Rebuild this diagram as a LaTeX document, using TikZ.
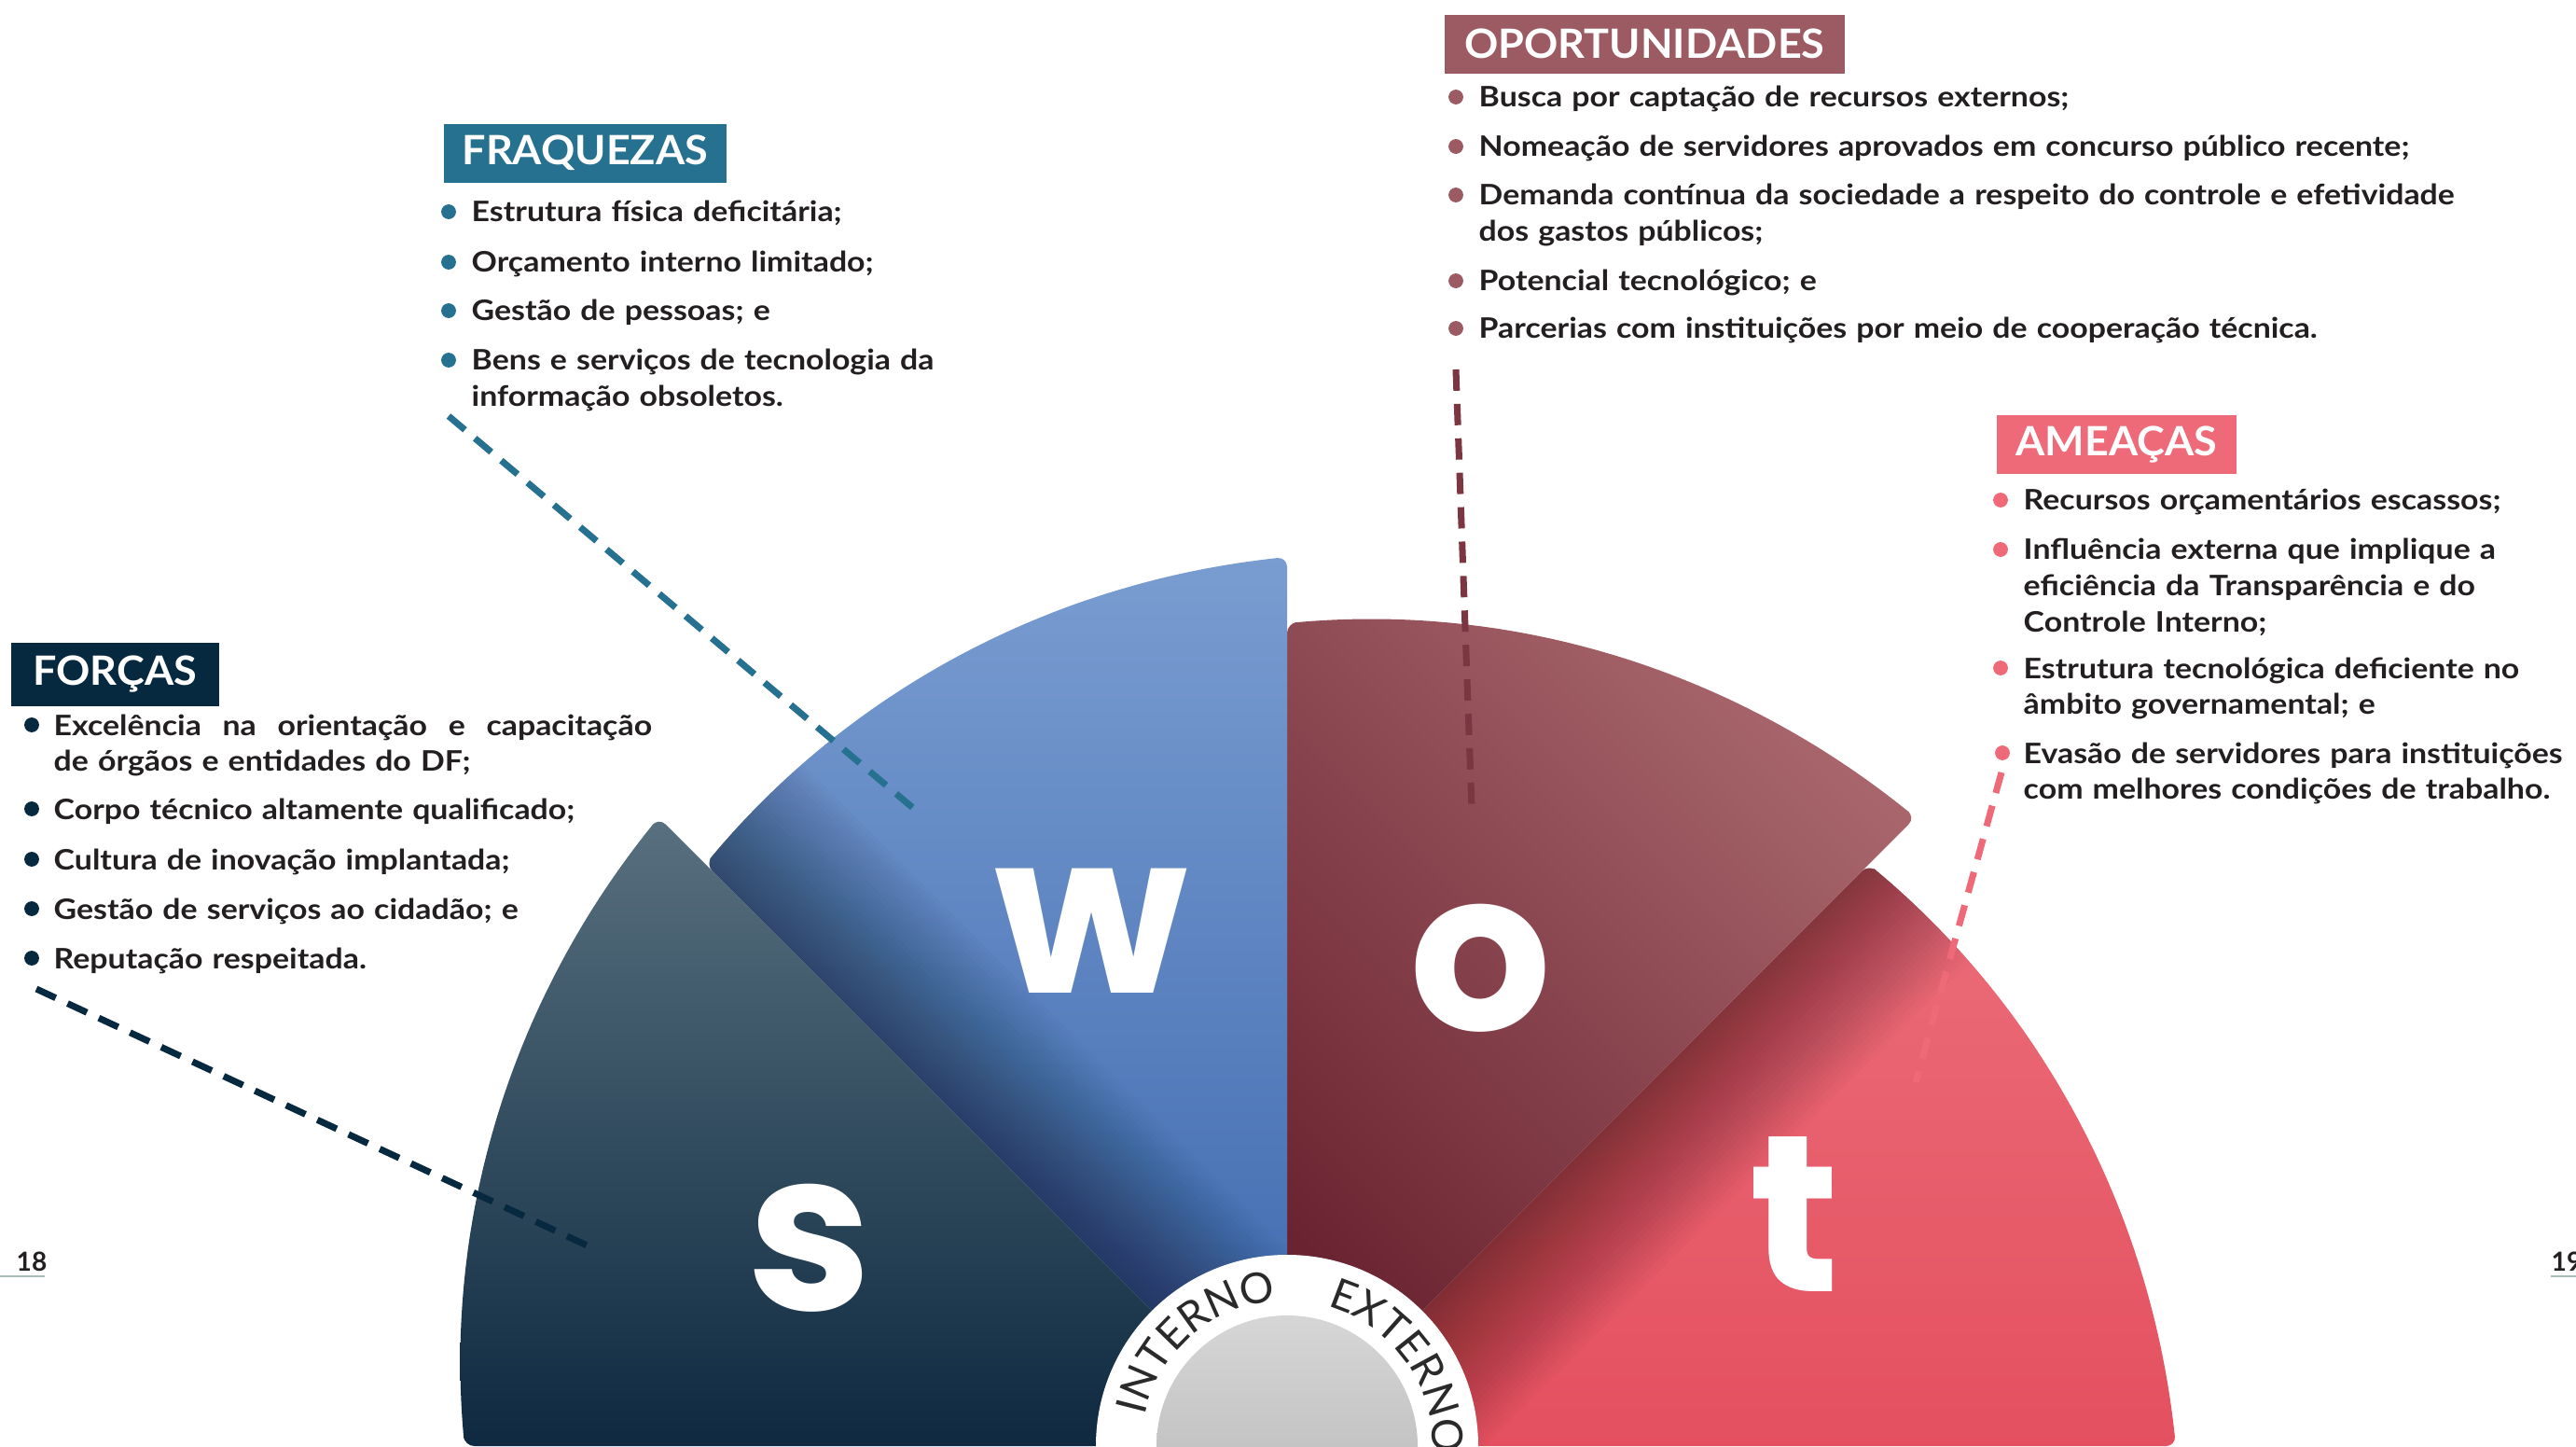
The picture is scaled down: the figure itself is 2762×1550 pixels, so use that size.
\documentclass[tikz,border=0pt]{standalone}
\usepackage{fontspec}
\setmainfont{Lato}
\newfontfamily\bodyfont{Lato}[FakeStretch=1.12]
\newfontfamily\headfont{Lato}[FakeStretch=1.04]
\newfontfamily\letterfont{Poppins}
\usetikzlibrary{decorations.text}

\definecolor{forcol}{HTML}{07293F}
\definecolor{fracol}{HTML}{26718F}
\definecolor{opocol}{HTML}{9C5A62}
\definecolor{opoline}{HTML}{7C3641}
\definecolor{amecol}{HTML}{EE6A78}
\definecolor{txtcol}{HTML}{231F20}
\definecolor{pgline}{HTML}{A9BDB4}
\definecolor{ringcol}{HTML}{2A2A2A}
\definecolor{stop}{HTML}{58707F}
\definecolor{sbot}{HTML}{0E2940}
\definecolor{wtop}{HTML}{7A9DD1}
\definecolor{wbot}{HTML}{3A66AD}
\definecolor{otop}{HTML}{A8666C}
\definecolor{obot}{HTML}{6A2431}
\definecolor{ttop}{HTML}{F07D88}
\definecolor{tbot}{HTML}{E4505F}
\definecolor{cirtop}{HTML}{D6D6D6}
\definecolor{cirbot}{HTML}{B2B2B2}
\newcommand*\ringfont{\fontsize{13}{15}\selectfont}

\begin{document}
\begin{tikzpicture}[x=0.01cm, y=0.01cm,
  hdr/.style={fill=#1, text=white, inner sep=0pt, anchor=north west, font=\headfont\fontsize{12.3}{14}\selectfont\bfseries},
  item/.style={anchor=base west, inner sep=0pt, text width=14cm, align=left, text=txtcol, font=\bodyfont\fontsize{8.6}{11}\selectfont\bfseries},
  dot/.style={circle, fill=#1, inner sep=0pt, minimum size=4.5pt},
  conn/.style={draw=#1, line width=2pt, dash pattern=on 6.5pt off 4pt},
  bigletter/.style={text=white, font=\letterfont\fontsize{68}{68}\selectfont\bfseries}]
\useasboundingbox (0,0) rectangle (2762,1550);
\coordinate (C) at (1380,0);

% t wedge, under o
\begin{scope}
\clip[rounded corners=3pt] (C) -- plot[domain=0:45, samples=40] ({1380+(953-71*\x/45)*cos(\x)}, {(953-71*\x/45)*sin(\x)}) -- cycle;
\shade[top color=ttop, bottom color=tbot] (1380,0) rectangle (2340,960);
\foreach \sh in {5,10,...,150}
  \fill[black, opacity=.016, shift={(C)}, rotate=45] (0,0) rectangle (1000,-\sh);
\end{scope}
% o wedge
\shade[rounded corners=3pt, top color=otop, bottom color=obot, shading angle=-45] (C) -- plot[domain=45:90, samples=40] ({1380+(953-71*(\x-45)/45)*cos(\x)}, {(953-71*(\x-45)/45)*sin(\x)}) -- cycle;
% w wedge, under s
\begin{scope}
\clip[rounded corners=3pt] (C) -- plot[domain=90:135, samples=40] ({1380+(953-71*(\x-90)/45)*cos(\x)}, {(953-71*(\x-90)/45)*sin(\x)}) -- cycle;
\shade[top color=wtop, bottom color=wbot] (400,0) rectangle (1400,960);
\foreach \sh in {5,10,...,150}
  \fill[black, opacity=.016, shift={(C)}, rotate=135] (0,0) rectangle (1000,-\sh);
\end{scope}
% s wedge
\shade[rounded corners=3pt, top color=stop, bottom color=sbot] (C) -- plot[domain=135:180, samples=40] ({1380+(953-71*(\x-135)/45)*cos(\x)}, {(953-71*(\x-135)/45)*sin(\x)}) -- cycle;

\node[bigletter] (ls) at (868,212) {s};
\node[bigletter] (lw) at (1170,552) {w};
\node[bigletter] (lo) at (1588,512) {o};
\node[bigletter] (lt) at (1924,248) {t};

% centre
\fill[white] (C) circle[radius=205];
\shade[top color=cirtop, bottom color=cirbot] (C) circle[radius=140];
\path[shift={(C)}, decorate, decoration={text along path, text={|\ringfont|INTERNO}, text align={fit to path}, text color=ringcol}] (168:156) arc[start angle=168, end angle=100, radius=156];
\path[shift={(C)}, decorate, decoration={text along path, text={|\ringfont|EXTERNO}, text align={fit to path}, text color=ringcol}] (74:156) arc[start angle=74, end angle=1, radius=156];

% dashed lines
\coordinate (fs1) at (39,490);
\coordinate (fs2) at (638,211);
\coordinate (fq1) at (481,1104);
\coordinate (fq2) at (986,678);
\coordinate (op1) at (1561,1154);
\coordinate (op2) at (1578,683);
\coordinate (am1) at (2146,722);
\coordinate (am2) at (2054,390);
\draw[conn=forcol] (fs1) -- (fs2);
\draw[conn=fracol] (fq1) -- (fq2);
\draw[conn=opoline] (op1) -- (op2);
\draw[conn=amecol] (am1) -- (am2);

% forcas
\node[hdr=forcol, minimum width=2.23cm, minimum height=0.68cm] (hfor) at (11,862) {FORÇAS};
\node[dot=forcol] (fb1) at (34,773) {};
\node[item] (fi1) at (57,762) {\hbox to 6.41cm{Excelência\hfill na\hfill orientação\hfill e\hfill capacitação}\\de órgãos e entidades do DF;};
\node[dot=forcol] (fb2) at (34,683) {};
\node[item] (fi2) at (57,672) {Corpo técnico altamente qualificado;};
\node[dot=forcol] (fb3) at (34,629) {};
\node[item] (fi3) at (57,618) {Cultura de inovação implantada;};
\node[dot=forcol] (fb4) at (34,576) {};
\node[item] (fi4) at (57,565) {Gestão de serviços ao cidadão; e};
\node[dot=forcol] (fb5) at (34,523) {};
\node[item] (fi5) at (57,512) {Reputação respeitada.};

% fraquezas
\node[hdr=fracol, minimum width=3.03cm, minimum height=0.63cm] (hfra) at (475,1418) {FRAQUEZAS};
\node[dot=fracol] (qb1) at (481,1323) {};
\node[item] (qi1) at (505,1312) {Estrutura física deficitária;};
\node[dot=fracol] (qb2) at (481,1269) {};
\node[item] (qi2) at (505,1258) {Orçamento interno limitado;};
\node[dot=fracol] (qb3) at (481,1217) {};
\node[item] (qi3) at (505,1206) {Gestão de pessoas; e};
\node[dot=fracol] (qb4) at (481,1164) {};
\node[item] (qi4) at (505,1153) {Bens e serviços de tecnologia da\\informação obsoletos.};

% oportunidades
\node[hdr=opocol, minimum width=4.29cm, minimum height=0.63cm] (hopo) at (1548,1535) {OPORTUNIDADES};
\node[dot=opocol] (ob1) at (1561,1446) {};
\node[item] (oi1) at (1585,1435) {Busca por captação de recursos externos;};
\node[dot=opocol] (ob2) at (1561,1393) {};
\node[item] (oi2) at (1585,1382) {Nomeação de servidores aprovados em concurso público recente;};
\node[dot=opocol] (ob3) at (1561,1341) {};
\node[item] (oi3) at (1585,1330) {Demanda contínua da sociedade a respeito do controle e efetividade\\dos gastos públicos;};
\node[dot=opocol] (ob4) at (1561,1249) {};
\node[item] (oi4) at (1585,1238) {Potencial tecnológico; e};
\node[dot=opocol] (ob5) at (1561,1198) {};
\node[item] (oi5) at (1585,1187) {Parcerias com instituições por meio de cooperação técnica.};

% ameacas
\node[hdr=amecol, minimum width=2.57cm, minimum height=0.63cm] (hame) at (2140,1106) {AMEAÇAS};
\node[dot=amecol] (ab1) at (2145,1014) {};
\node[item] (ai1) at (2169,1003) {Recursos orçamentários escassos;};
\node[dot=amecol] (ab2) at (2145,961) {};
\node[item] (ai2) at (2169,950) {Influência externa que implique a\\eficiência da Transparência e do\\Controle Interno;};
\node[dot=amecol] (ab3) at (2145,834) {};
\node[item] (ai3) at (2169,823) {Estrutura tecnológica deficiente no\\âmbito governamental; e};
\node[dot=amecol] (ab4) at (2147,743) {};
\node[item] (ai4) at (2169,732) {Evasão de servidores para instituições\\com melhores condições de trabalho.};

% page numbers
\node[anchor=base west, inner sep=0pt, text=txtcol, font=\fontsize{8}{9}\selectfont\bfseries] (p18) at (17,188) {18};
\node[anchor=base west, inner sep=0pt, text=txtcol, font=\fontsize{8}{9}\selectfont\bfseries] (p19) at (2735,188) {19};
\draw[pgline, line width=0.6pt] (0,182) -- (48,182);
\draw[pgline, line width=0.6pt] (2735,182) -- (2762,182);
\end{tikzpicture}
\end{document}
